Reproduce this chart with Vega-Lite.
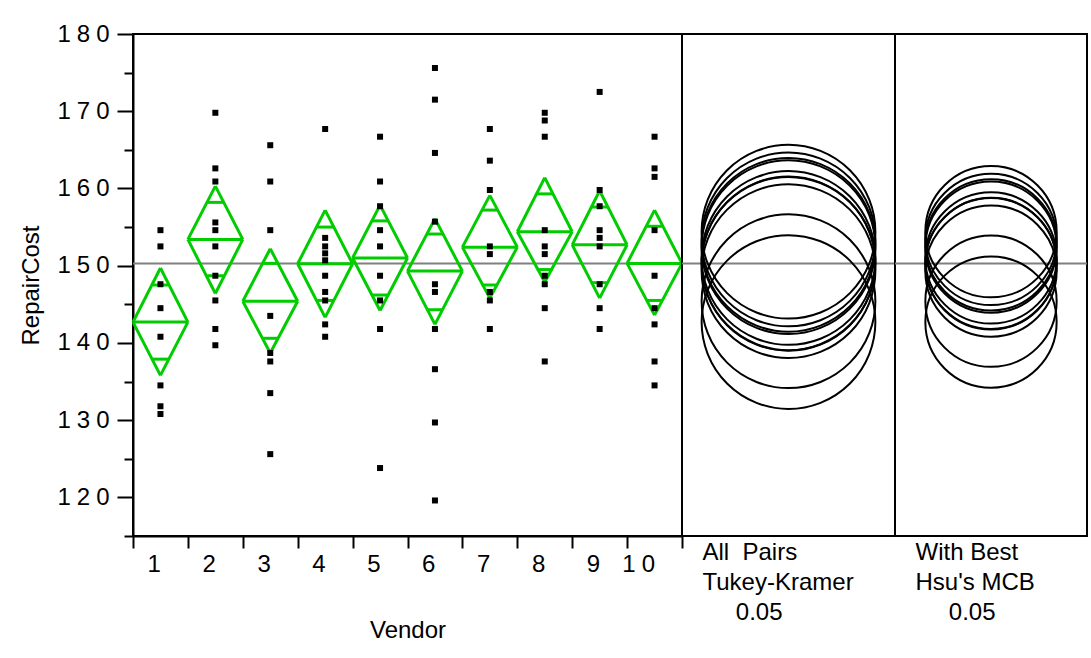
{
  "$schema": "https://vega.github.io/schema/vega-lite/v6.json",
  "autosize": {"type": "pad"},
  "padding": {"left": 18, "top": 21, "right": 4, "bottom": 5},
  "background": "white",
  "bounds": "flush",
  "spacing": 0,
  "config": {
    "font": "Liberation Sans",
    "view": {"stroke": "black", "strokeWidth": 2},
    "axis": {
      "domainColor": "black", "domainWidth": 2, "tickColor": "black", "tickWidth": 2,
      "labelColor": "black", "titleColor": "black", "labelFontSize": 24, "titleFontSize": 24,
      "titleFontWeight": "normal", "labelFont": "Liberation Sans", "titleFont": "Liberation Sans",
      "grid": false
    }
  },
  "resolve": {"scale": {"x": "independent", "size": "shared"}},
  "datasets": {
    "gm": [{"grandMean": 150.3}],
    "diamonds": [
      {"vendor": 1, "mean": 142.7, "lo": 135.8, "hi": 149.7, "olo": 137.9, "ohi": 147.5},
      {"vendor": 2, "mean": 153.4, "lo": 146.4, "hi": 160.3, "olo": 148.7, "ohi": 158.2},
      {"vendor": 3, "mean": 145.4, "lo": 138.7, "hi": 152.2, "olo": 140.6, "ohi": 150.3},
      {"vendor": 4, "mean": 150.25, "lo": 143.3, "hi": 157.2, "olo": 145.5, "ohi": 155.0},
      {"vendor": 5, "mean": 151.0, "lo": 144.2, "hi": 157.85, "olo": 146.2, "ohi": 155.8},
      {"vendor": 6, "mean": 149.3, "lo": 142.4, "hi": 156.1, "olo": 144.3, "ohi": 154.1},
      {"vendor": 7, "mean": 152.4, "lo": 145.8, "hi": 159.1, "olo": 147.5, "ohi": 157.2},
      {"vendor": 8, "mean": 154.4, "lo": 147.9, "hi": 161.4, "olo": 149.5, "ohi": 159.3},
      {"vendor": 9, "mean": 152.7, "lo": 145.8, "hi": 159.7, "olo": 147.8, "ohi": 157.6},
      {"vendor": 10, "mean": 150.3, "lo": 143.6, "hi": 157.2, "olo": 145.5, "ohi": 155.1}
    ],
    "circles": [
      {"vendor": 1, "mean": 142.7, "tk": 11.25, "hsu": 8.5},
      {"vendor": 2, "mean": 153.4, "tk": 11.25, "hsu": 8.5},
      {"vendor": 3, "mean": 145.4, "tk": 11.25, "hsu": 8.5},
      {"vendor": 4, "mean": 150.25, "tk": 11.25, "hsu": 8.5},
      {"vendor": 5, "mean": 151.0, "tk": 11.25, "hsu": 8.5},
      {"vendor": 6, "mean": 149.3, "tk": 11.25, "hsu": 8.5},
      {"vendor": 7, "mean": 152.4, "tk": 11.25, "hsu": 8.5},
      {"vendor": 8, "mean": 154.4, "tk": 11.25, "hsu": 8.5},
      {"vendor": 9, "mean": 152.7, "tk": 11.25, "hsu": 8.5},
      {"vendor": 10, "mean": 150.3, "tk": 11.25, "hsu": 8.5}
    ],
    "points": [
      {"vendor": 1, "cost": 154.6}, {"vendor": 1, "cost": 152.5}, {"vendor": 1, "cost": 147.6}, {"vendor": 1, "cost": 144.5},
      {"vendor": 1, "cost": 140.8}, {"vendor": 1, "cost": 134.5}, {"vendor": 1, "cost": 131.8}, {"vendor": 1, "cost": 130.8},
      {"vendor": 2, "cost": 169.8}, {"vendor": 2, "cost": 162.6}, {"vendor": 2, "cost": 160.9}, {"vendor": 2, "cost": 155.6},
      {"vendor": 2, "cost": 154.6}, {"vendor": 2, "cost": 152.5}, {"vendor": 2, "cost": 148.7}, {"vendor": 2, "cost": 145.5},
      {"vendor": 2, "cost": 141.8}, {"vendor": 2, "cost": 139.7},
      {"vendor": 3, "cost": 165.6}, {"vendor": 3, "cost": 160.9}, {"vendor": 3, "cost": 154.6}, {"vendor": 3, "cost": 143.5},
      {"vendor": 3, "cost": 138.7}, {"vendor": 3, "cost": 137.6}, {"vendor": 3, "cost": 133.5}, {"vendor": 3, "cost": 125.6},
      {"vendor": 4, "cost": 167.7}, {"vendor": 4, "cost": 153.6}, {"vendor": 4, "cost": 152.5}, {"vendor": 4, "cost": 151.6},
      {"vendor": 4, "cost": 150.7}, {"vendor": 4, "cost": 148.7}, {"vendor": 4, "cost": 146.6}, {"vendor": 4, "cost": 145.5},
      {"vendor": 4, "cost": 142.4}, {"vendor": 4, "cost": 140.8},
      {"vendor": 5, "cost": 166.7}, {"vendor": 5, "cost": 160.9}, {"vendor": 5, "cost": 157.7}, {"vendor": 5, "cost": 154.6},
      {"vendor": 5, "cost": 152.5}, {"vendor": 5, "cost": 148.7}, {"vendor": 5, "cost": 145.5}, {"vendor": 5, "cost": 141.8},
      {"vendor": 5, "cost": 123.8},
      {"vendor": 6, "cost": 175.6}, {"vendor": 6, "cost": 171.5}, {"vendor": 6, "cost": 164.6}, {"vendor": 6, "cost": 155.7},
      {"vendor": 6, "cost": 147.6}, {"vendor": 6, "cost": 146.6}, {"vendor": 6, "cost": 141.8}, {"vendor": 6, "cost": 136.6},
      {"vendor": 6, "cost": 129.7}, {"vendor": 6, "cost": 119.6},
      {"vendor": 7, "cost": 167.7}, {"vendor": 7, "cost": 163.6}, {"vendor": 7, "cost": 159.8}, {"vendor": 7, "cost": 152.5},
      {"vendor": 7, "cost": 151.5}, {"vendor": 7, "cost": 146.6}, {"vendor": 7, "cost": 145.5}, {"vendor": 7, "cost": 141.8},
      {"vendor": 8, "cost": 169.8}, {"vendor": 8, "cost": 168.8}, {"vendor": 8, "cost": 166.7}, {"vendor": 8, "cost": 154.6},
      {"vendor": 8, "cost": 152.5}, {"vendor": 8, "cost": 151.5}, {"vendor": 8, "cost": 148.7}, {"vendor": 8, "cost": 147.6},
      {"vendor": 8, "cost": 144.5}, {"vendor": 8, "cost": 137.6},
      {"vendor": 9, "cost": 172.5}, {"vendor": 9, "cost": 159.8}, {"vendor": 9, "cost": 157.7}, {"vendor": 9, "cost": 154.6},
      {"vendor": 9, "cost": 153.6}, {"vendor": 9, "cost": 152.5}, {"vendor": 9, "cost": 147.6}, {"vendor": 9, "cost": 144.5},
      {"vendor": 9, "cost": 141.8},
      {"vendor": 10, "cost": 166.7}, {"vendor": 10, "cost": 162.6}, {"vendor": 10, "cost": 161.5}, {"vendor": 10, "cost": 154.6},
      {"vendor": 10, "cost": 148.7}, {"vendor": 10, "cost": 144.5}, {"vendor": 10, "cost": 142.4}, {"vendor": 10, "cost": 137.6},
      {"vendor": 10, "cost": 134.5}
    ]
  },
  "hconcat": [
    {
      "width": 549,
      "height": 502,
      "resolve": {"axis": {"y": "independent"}},
      "layer": [
        {
          "data": {"name": "gm"},
          "mark": {"type": "rule", "color": "#808080", "strokeWidth": 2},
          "encoding": {
            "y": {
              "field": "grandMean", "type": "quantitative", "title": "RepairCost",
              "scale": {"domain": [115, 180], "nice": false, "zero": false},
              "axis": {
                "title": "RepairCost",
                "orient": "left",
                "values": [120, 130, 140, 150, 160, 170, 180],
                "tickSize": 16,
                "labelPadding": 8,
                "titlePadding": 13,
                "labelExpr": "join(split(datum.label, ''), '\u2005')"
              }
            }
          }
        },
        {
          "data": {"name": "diamonds"},
          "mark": {"type": "rule", "color": "#00CC00", "strokeWidth": 3},
          "encoding": {
            "x": {"field": "vendor", "type": "ordinal", "bandPosition": 0, "title": "Vendor",
                  "scale": {"type": "band", "domain": [1,2,3,4,5,6,7,8,9,10], "paddingInner": 0, "paddingOuter": 0}},
            "x2": {"field": "vendor", "bandPosition": 0.5},
            "y": {"field": "mean", "type": "quantitative", "axis": null},
            "y2": {"field": "hi"}
          }
        },
        {
          "data": {"name": "diamonds"},
          "mark": {"type": "rule", "color": "#00CC00", "strokeWidth": 3},
          "encoding": {
            "x": {"field": "vendor", "type": "ordinal", "bandPosition": 0.5, "title": "Vendor"},
            "x2": {"field": "vendor", "bandPosition": 1},
            "y": {"field": "hi", "type": "quantitative", "axis": null},
            "y2": {"field": "mean"}
          }
        },
        {
          "data": {"name": "diamonds"},
          "mark": {"type": "rule", "color": "#00CC00", "strokeWidth": 3},
          "encoding": {
            "x": {"field": "vendor", "type": "ordinal", "bandPosition": 0, "title": "Vendor"},
            "x2": {"field": "vendor", "bandPosition": 0.5},
            "y": {"field": "mean", "type": "quantitative", "axis": null},
            "y2": {"field": "lo"}
          }
        },
        {
          "data": {"name": "diamonds"},
          "mark": {"type": "rule", "color": "#00CC00", "strokeWidth": 3},
          "encoding": {
            "x": {"field": "vendor", "type": "ordinal", "bandPosition": 0.5, "title": "Vendor"},
            "x2": {"field": "vendor", "bandPosition": 1},
            "y": {"field": "lo", "type": "quantitative", "axis": null},
            "y2": {"field": "mean"}
          }
        },
        {
          "data": {"name": "diamonds"},
          "mark": {"type": "rule", "color": "#00CC00", "strokeWidth": 3},
          "encoding": {
            "x": {"field": "vendor", "type": "ordinal", "bandPosition": 0, "title": "Vendor"},
            "x2": {"field": "vendor", "bandPosition": 1},
            "y": {"field": "mean", "type": "quantitative", "axis": null}
          }
        },
        {
          "data": {"name": "diamonds"},
          "mark": {"type": "rule", "color": "#00CC00", "strokeWidth": 3},
          "encoding": {
            "x": {"field": "vendor", "type": "ordinal", "bandPosition": 0.354, "title": "Vendor"},
            "x2": {"field": "vendor", "bandPosition": 0.646},
            "y": {"field": "ohi", "type": "quantitative", "axis": null}
          }
        },
        {
          "data": {"name": "diamonds"},
          "mark": {"type": "rule", "color": "#00CC00", "strokeWidth": 3},
          "encoding": {
            "x": {"field": "vendor", "type": "ordinal", "bandPosition": 0.354, "title": "Vendor"},
            "x2": {"field": "vendor", "bandPosition": 0.646},
            "y": {"field": "olo", "type": "quantitative", "axis": null}
          }
        },
        {
          "data": {"name": "points"},
          "mark": {"type": "square", "color": "black", "size": 36, "opacity": 1},
          "encoding": {
            "x": {
              "field": "vendor", "type": "ordinal", "title": "Vendor",
              "axis": {
                "title": "Vendor", "tickBand": "extent", "tickSize": 12, "labelPadding": 16,
                "titlePadding": 42, "labelAngle": 0,
                "labelExpr": "join(split(datum.label, ''), '\u2005')"
              }
            },
            "y": {
              "field": "cost", "type": "quantitative",
              "axis": {
                "orient": "left", "title": null, "labels": false, "domain": false,
                "values": [115, 125, 135, 145, 155, 165, 175], "tickSize": 9
              }
            }
          }
        }
      ]
    },
    {
      "width": 213,
      "height": 502,
      "layer": [
        {
          "data": {"name": "gm"},
          "mark": {"type": "rule", "color": "#808080", "strokeWidth": 2},
          "encoding": {
            "y": {"field": "grandMean", "type": "quantitative",
                  "scale": {"domain": [115, 180], "nice": false, "zero": false}, "axis": null}
          }
        },
        {
          "data": {"name": "circles"},
          "mark": {"type": "point", "shape": "circle", "filled": false, "stroke": "black", "strokeWidth": 2, "opacity": 1},
          "encoding": {
            "x": {
              "datum": "tk", "type": "nominal",
              "scale": {"type": "band", "paddingInner": 0, "paddingOuter": 0},
              "axis": {
                "labels": false, "ticks": false, "domain": false,
                "title": ["\u200b\u00a0\u00a0\u00a0All\u00a0\u00a0Pairs", "\u200b\u00a0\u00a0\u00a0Tukey-Kramer", "\u200b\u00a0\u00a0\u00a0\u00a0\u00a0\u00a0\u00a0\u00a00.05"],
                "titleAnchor": "start", "titleAlign": "left", "titleBaseline": "top",
                "titlePadding": 4, "titleLineHeight": 30
              }
            },
            "y": {"field": "mean", "type": "quantitative", "axis": null},
            "size": {
              "field": "tk", "type": "quantitative", "legend": null,
              "scale": {"type": "pow", "exponent": 2, "domain": [0, 20], "range": [0, 95420]}
            }
          }
        }
      ]
    },
    {
      "width": 192,
      "height": 502,
      "layer": [
        {
          "data": {"name": "gm"},
          "mark": {"type": "rule", "color": "#808080", "strokeWidth": 2},
          "encoding": {
            "y": {"field": "grandMean", "type": "quantitative",
                  "scale": {"domain": [115, 180], "nice": false, "zero": false}, "axis": null}
          }
        },
        {
          "data": {"name": "circles"},
          "mark": {"type": "point", "shape": "circle", "filled": false, "stroke": "black", "strokeWidth": 2, "opacity": 1},
          "encoding": {
            "x": {
              "datum": "hsu", "type": "nominal",
              "scale": {"type": "band", "paddingInner": 0, "paddingOuter": 0},
              "axis": {
                "labels": false, "ticks": false, "domain": false,
                "title": ["\u200b\u00a0\u00a0\u00a0With\u00a0Best", "\u200b\u00a0\u00a0\u00a0Hsu's\u00a0MCB", "\u200b\u00a0\u00a0\u00a0\u00a0\u00a0\u00a0\u00a0\u00a00.05"],
                "titleAnchor": "start", "titleAlign": "left", "titleBaseline": "top",
                "titlePadding": 4, "titleLineHeight": 30
              }
            },
            "y": {"field": "mean", "type": "quantitative", "axis": null},
            "size": {
              "field": "hsu", "type": "quantitative", "legend": null,
              "scale": {"type": "pow", "exponent": 2, "domain": [0, 20], "range": [0, 95420]}
            }
          }
        }
      ]
    }
  ]
}
